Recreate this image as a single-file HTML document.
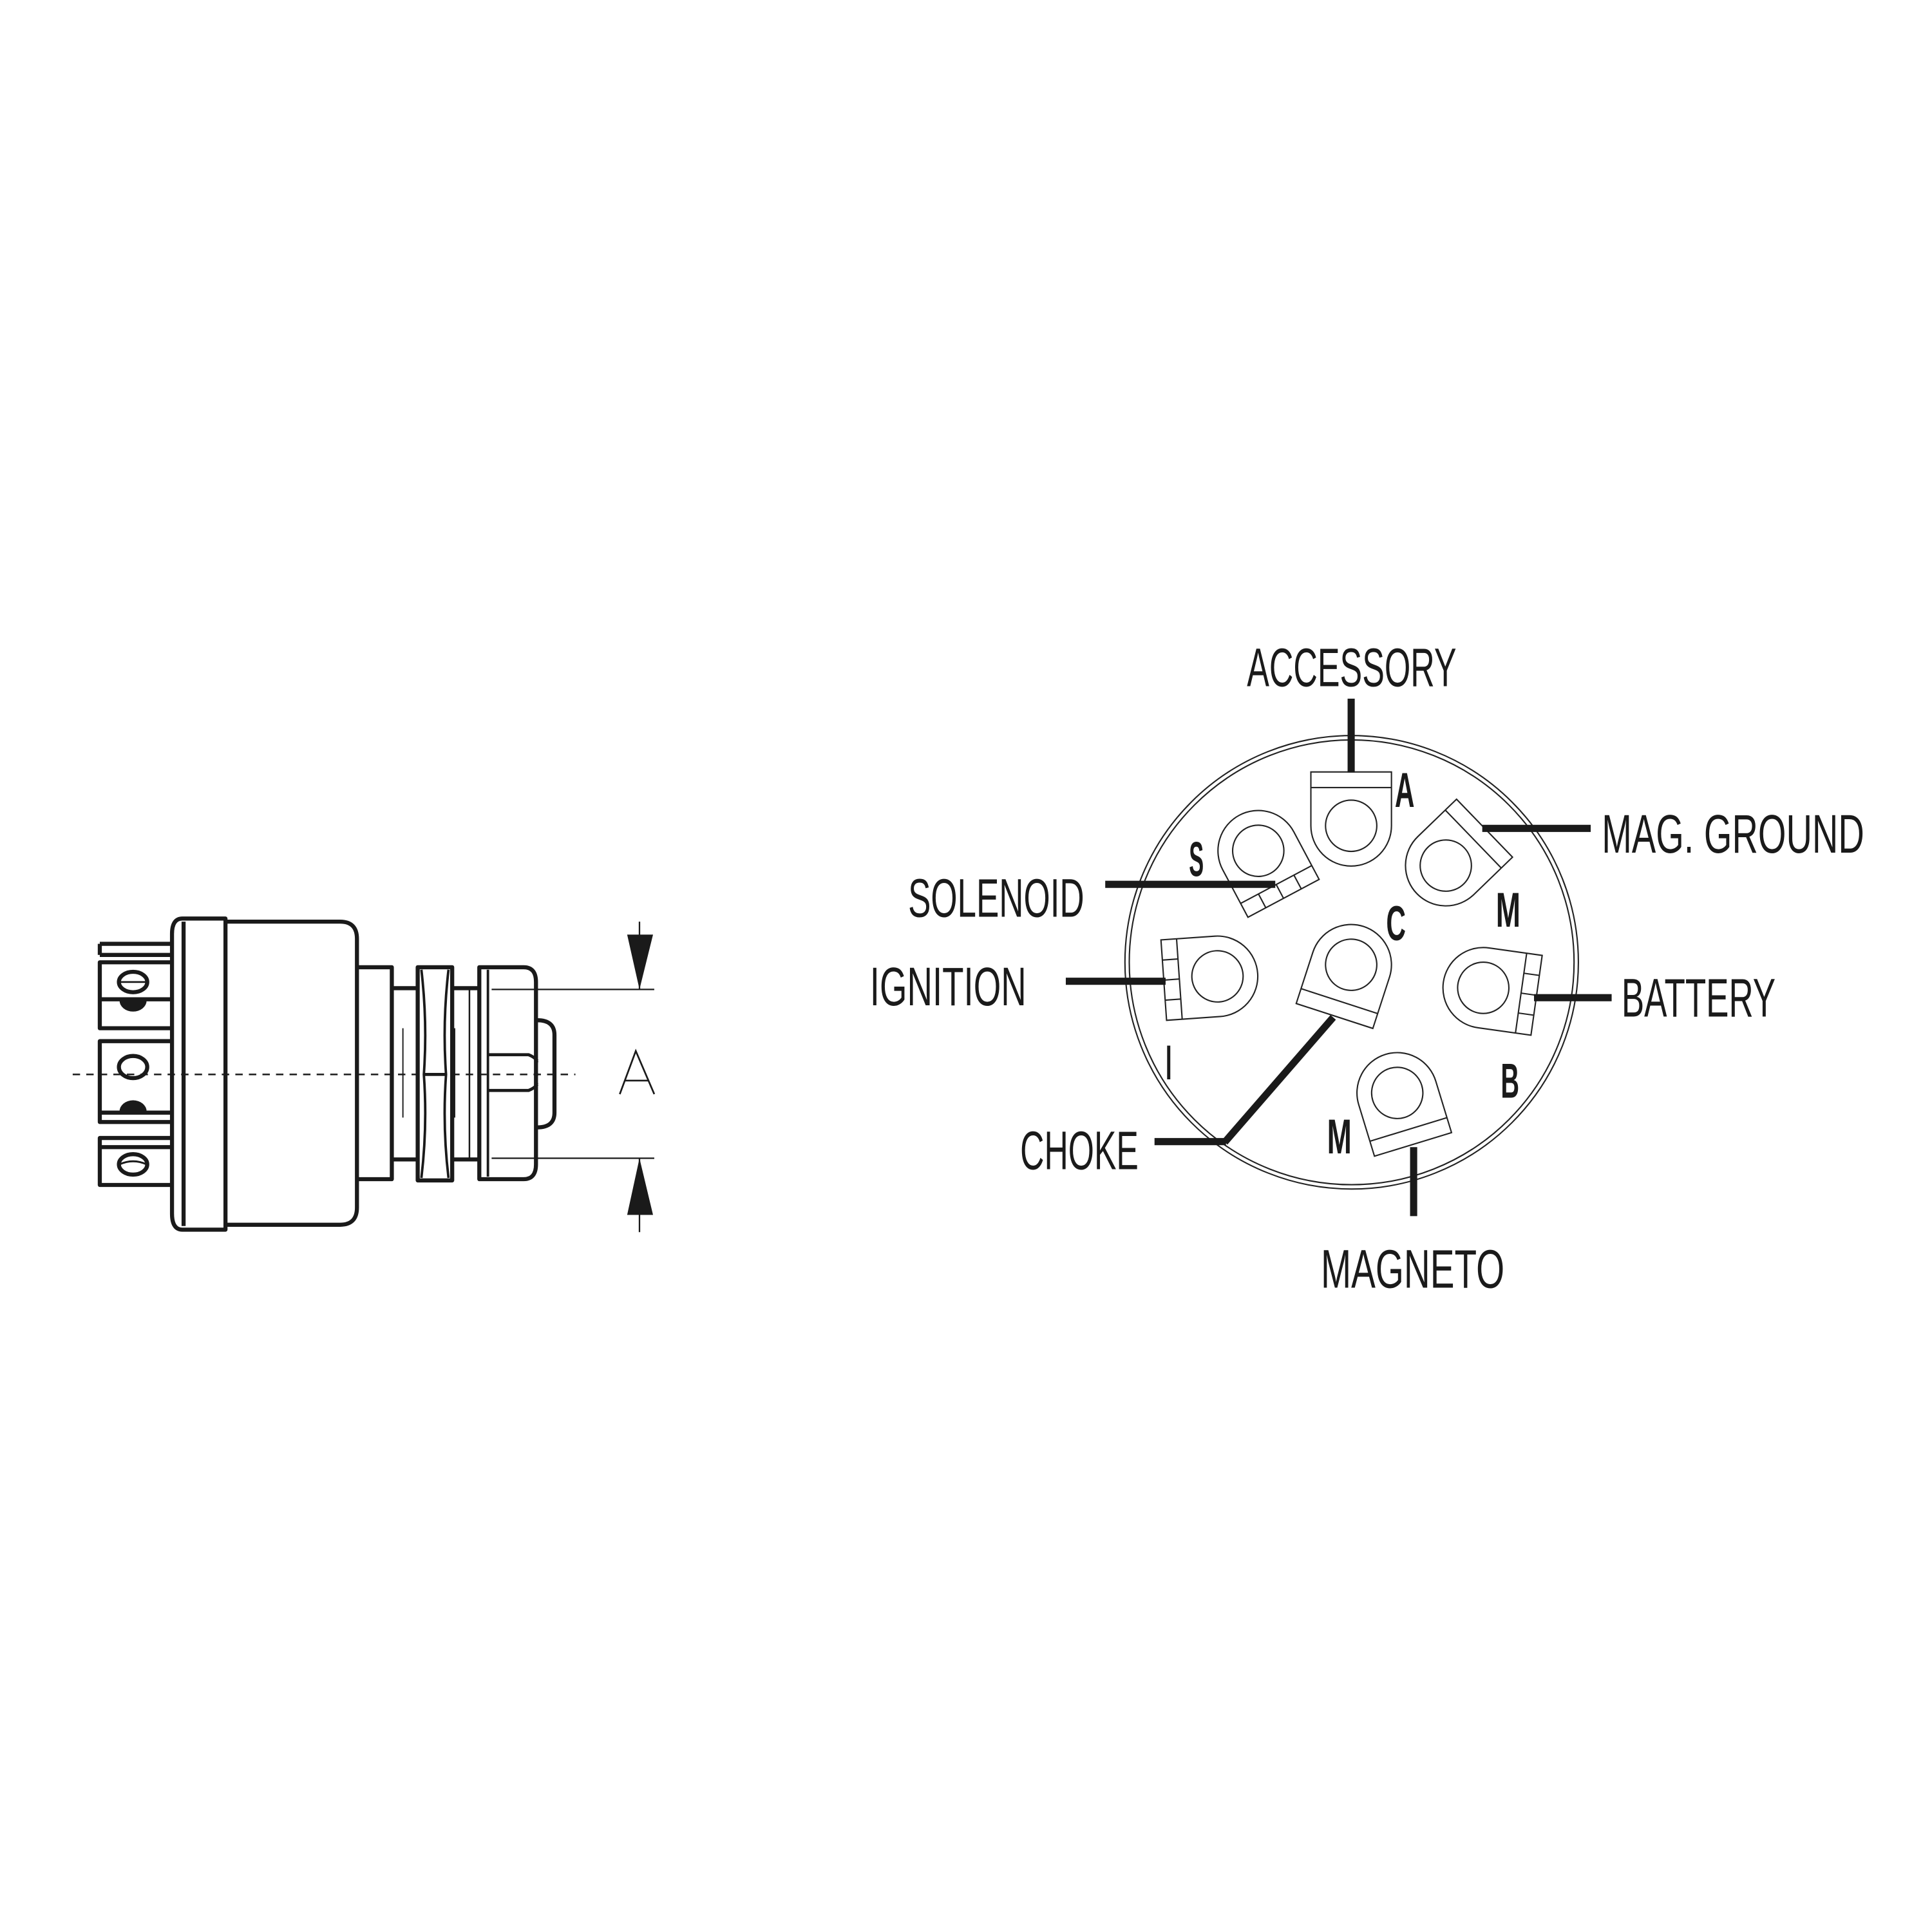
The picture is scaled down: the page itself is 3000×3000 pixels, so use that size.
<!DOCTYPE html>
<html><head><meta charset="utf-8"><style>html,body{margin:0;padding:0;background:#fff}svg{display:block}</style></head>
<body>
<svg width="3000" height="3000" viewBox="0 0 1568 1568" xmlns="http://www.w3.org/2000/svg">
<defs>
<g id="lug">
<path d="M-32.7,-43.7 H32.7 V0 A32.7,32.7 0 0 1 -32.7,0 Z" fill="#fff" stroke="#222" stroke-width="1.1"/>
<line x1="-32.7" y1="-31" x2="32.7" y2="-31" stroke="#222" stroke-width="1.1"/>
<circle cx="0" cy="0" r="20.8" fill="none" stroke="#222" stroke-width="1.1"/>
</g>
<g id="seg">
<line x1="-16.3" y1="-43.7" x2="-16.3" y2="-31" stroke="#222" stroke-width="1.1"/>
<line x1="0" y1="-43.7" x2="0" y2="-31" stroke="#222" stroke-width="1.1"/>
<line x1="16.3" y1="-43.7" x2="16.3" y2="-31" stroke="#222" stroke-width="1.1"/>
</g>
</defs>
<rect width="1568" height="1568" fill="#fff"/>

<!-- LEFT DRAWING -->
<g fill="none" stroke="#1a1a1a" stroke-width="3.3" stroke-linejoin="round">
<line x1="81" y1="766" x2="139" y2="766"/>
<line x1="81" y1="775" x2="139" y2="775"/>
<line x1="81" y1="766" x2="81" y2="775"/>
<path d="M139,781 H81 V834.5 H139"/>
<line x1="81" y1="811" x2="139" y2="811"/>
<path d="M139,845 H81 V910.6 H139"/>
<line x1="81" y1="903" x2="139" y2="903"/>
<path d="M139,923.6 H81 V961.7 H139"/>
<line x1="81" y1="931" x2="139" y2="931"/>
<ellipse cx="108" cy="797" rx="11.5" ry="8.3"/>
<line x1="98" y1="797" x2="118" y2="797" stroke-width="1.5"/>
<ellipse cx="108" cy="866" rx="11.5" ry="9"/>
<ellipse cx="108" cy="945" rx="11.5" ry="8.3"/>
<path d="M97,945 Q108,940 119,945" stroke-width="1.5"/>
</g>
<path d="M97,812 A11,9 0 0 0 119,812 Z" fill="#1a1a1a"/>
<path d="M97,902 A11,9 0 0 1 119,902 Z" fill="#1a1a1a"/>
<g fill="none" stroke="#1a1a1a" stroke-width="3.3" stroke-linejoin="round">
<path d="M183,745.5 H148 Q139.6,745.5 139.6,758 V985 Q139.6,998 148,998 H183 Z"/>
<line x1="149" y1="748" x2="149" y2="995"/>
<path d="M183,748 H276 Q289.7,748 289.7,762 V980 Q289.7,994 276,994 H183"/>
<path d="M289.7,785 H318 V957 H289.7"/>
<path d="M318,802 H339 M318,941 H339"/>
<rect x="339" y="785" width="28" height="173"/>
<path d="M342,787 Q347,830 344,872 Q347,914 342,956" stroke-width="2"/>
<path d="M364,787 Q359,830 362,872 Q359,914 364,956" stroke-width="2"/>
<line x1="344" y1="872" x2="362" y2="872" stroke-width="2.5"/>
<path d="M367,802 H389 M367,941 H389"/>
<line x1="381" y1="802" x2="381" y2="941" stroke-width="1.3"/>
<path d="M389,785 H425 Q435,785 435,797 V945 Q435,957 425,957 H389 Z"/>
<line x1="396" y1="787" x2="396" y2="955" stroke-width="2"/>
<path d="M396,856 H429 Q434,858 436,861 M396,885 H429 Q434,883 436,880" stroke-width="2.5"/>
<path d="M436,861 Q434,868 436,872 Q434,876 436,880" stroke-width="2"/>
<path d="M436,828 Q450,828 450,840 V903 Q450,915 436,915"/>
</g>
<line x1="327" y1="834.5" x2="327" y2="907" stroke="#1a1a1a" stroke-width="1"/>
<line x1="369" y1="834.5" x2="369" y2="907" stroke="#1a1a1a" stroke-width="1"/>
<line x1="59" y1="872" x2="467" y2="872" stroke="#1a1a1a" stroke-width="1.3" stroke-dasharray="6,5"/>
<g stroke="#1a1a1a" stroke-width="1.2">
<line x1="399" y1="803" x2="531" y2="803"/>
<line x1="399" y1="940" x2="531" y2="940"/>
<line x1="519" y1="748" x2="519" y2="803"/>
<line x1="519" y1="940" x2="519" y2="1000"/>
</g>
<polygon points="509,758.5 530,758.5 519,803" fill="#1a1a1a"/>
<polygon points="509,986 530,986 519,940" fill="#1a1a1a"/>
<path d="M503,888 L516,853 L531,888 M507,877 H526" fill="none" stroke="#1a1a1a" stroke-width="1.4"/>

<!-- RIGHT DIAGRAM -->
<circle cx="1097" cy="781" r="184" fill="none" stroke="#222" stroke-width="1.1"/>
<circle cx="1097" cy="781" r="180.5" fill="none" stroke="#222" stroke-width="1.1"/>

<g transform="translate(1096.6,670.2)"><use href="#lug"/></g>
<g transform="translate(1021.2,690.5) rotate(152)"><use href="#lug"/><use href="#seg"/></g>
<g transform="translate(1173.4,702.5) rotate(46)"><use href="#lug"/></g>
<g transform="translate(988.1,792.4) rotate(-94)"><use href="#lug"/><use href="#seg"/></g>
<g transform="translate(1096.6,783) rotate(198)"><use href="#lug"/></g>
<g transform="translate(1203.8,801.7) rotate(98)"><use href="#lug"/><use href="#seg"/></g>
<g transform="translate(1134,887) rotate(163)"><use href="#lug"/></g>

<g stroke="#1a1a1a" stroke-width="5.8" fill="none">
<line x1="1096.6" y1="567" x2="1096.6" y2="627"/>
<line x1="1203" y1="672.3" x2="1291" y2="672.3"/>
<line x1="897" y1="717.7" x2="1035" y2="717.7"/>
<line x1="865" y1="796.4" x2="946" y2="796.4"/>
<line x1="1245" y1="809.7" x2="1308" y2="809.7"/>
<line x1="937" y1="926.5" x2="995" y2="926.5"/>
<line x1="994" y1="927" x2="1082" y2="825.7"/>
<line x1="1147.3" y1="931" x2="1147.3" y2="987"/>
</g>

<g font-family="'Liberation Sans Narrow','Liberation Sans',sans-serif" font-size="44" fill="#1a1a1a">
<text x="1012" y="557" textLength="170" lengthAdjust="spacingAndGlyphs">ACCESSORY</text>
<text x="1300" y="692" textLength="213" lengthAdjust="spacingAndGlyphs">MAG. GROUND</text>
<text x="737" y="744" textLength="143" lengthAdjust="spacingAndGlyphs">SOLENOID</text>
<text x="706" y="816" textLength="127" lengthAdjust="spacingAndGlyphs">IGNITION</text>
<text x="1316" y="825" textLength="125" lengthAdjust="spacingAndGlyphs">BATTERY</text>
<text x="828" y="949" textLength="96" lengthAdjust="spacingAndGlyphs">CHOKE</text>
<text x="1072" y="1045" textLength="149" lengthAdjust="spacingAndGlyphs">MAGNETO</text>
</g>
<g font-family="'Liberation Sans Narrow','Liberation Sans',sans-serif" font-size="40" fill="#1a1a1a" font-weight="bold">
<text x="1132" y="655" textLength="16" lengthAdjust="spacingAndGlyphs">A</text>
<text x="965" y="711" textLength="12" lengthAdjust="spacingAndGlyphs">S</text>
<text x="1214" y="752" textLength="20" lengthAdjust="spacingAndGlyphs">M</text>
<text x="1125" y="763" textLength="16" lengthAdjust="spacingAndGlyphs">C</text>
<text x="946" y="876" textLength="5" lengthAdjust="spacingAndGlyphs">I</text>
<text x="1218" y="891" textLength="15" lengthAdjust="spacingAndGlyphs">B</text>
<text x="1077" y="936" textLength="20" lengthAdjust="spacingAndGlyphs">M</text>
</g>
</svg>
</body></html>
